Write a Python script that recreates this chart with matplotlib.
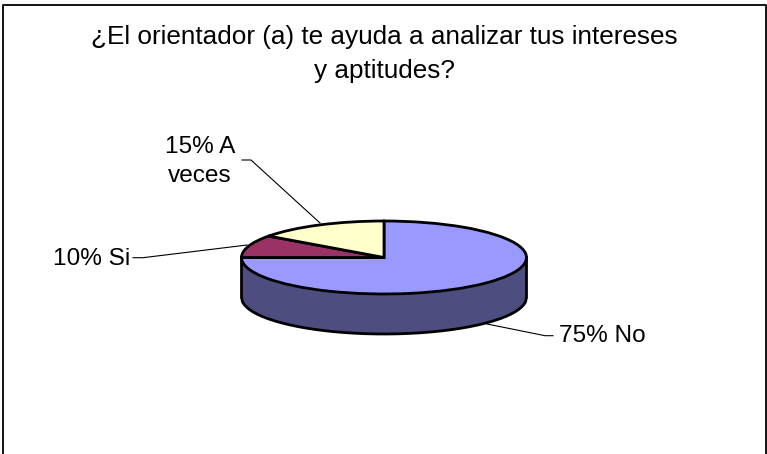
import numpy as np
import matplotlib
matplotlib.use("Agg")
import matplotlib.pyplot as plt

plt.rcParams['font.family'] = ['Liberation Sans', 'DejaVu Sans']

titulo = "¿El orientador (a) te ayuda a analizar tus intereses\ny aptitudes?"
categorias = ["No", "Si", "A\nveces"]
valores = [75, 10, 15]
colores = ["#9999FF", "#993366", "#FFFFCC"]
color_lado = "#4D4D80"

W, H = 767, 454
# elipse de la tapa en pixeles
cx, cy, rx, ry = 384, 257.5, 142.5, 36.5
alto = 40

fig = plt.figure(figsize=(W / 100, H / 100), dpi=100)

# capa en pixeles para marco, textos y lineas
fondo = fig.add_axes([0, 0, 1, 1])
fondo.set_xlim(0, W)
fondo.set_ylim(H, 0)
fondo.axis("off")
fondo.plot([3, 3, 766, 766], [H, 4.5, 4.5, H], color="black", lw=1.3)

fondo.text(384, 54, titulo, ha="center", va="center", fontsize=18.8, linespacing=1.53)

# lineas guia
fondo.plot([133, 143, 247], [257.7, 257.7, 245], color="black", lw=0.8)
fondo.plot([242, 251, 320], [160, 160, 223], color="black", lw=0.8)
fondo.plot([487, 545, 553], [324, 335.7, 335.7], color="black", lw=0.8)
fondo.text(559, 336, f"{valores[0]}% {categorias[0]}", ha="left", va="center", fontsize=17.6)
fondo.text(130, 259, f"{valores[1]}% {categorias[1]}", ha="right", va="center", fontsize=17.6)
fondo.text(200, 161.5, f"{valores[2]}% {categorias[2]}", ha="center", va="center", fontsize=17.6, linespacing=1.42)

# tarta con radio 1, ejes escalados para que salga elipse
ax = fig.add_axes([0, 0, 1, 1])
ax.patch.set_alpha(0)
ax.pie(valores, colors=colores, startangle=90, counterclock=False, radius=1,
       wedgeprops=dict(edgecolor="black", linewidth=2, zorder=3))
ax.set_aspect("auto")
ax.set_xlim((0 - cx) / rx, (W - cx) / rx)
ax.set_ylim((cy - H) / ry, cy / ry)
ax.axis("off")

# lado del cilindro
x = np.linspace(-1, 1, 300)
y = -np.sqrt(1 - x ** 2)
prof = alto / ry
ax.fill_between(x, y, y - prof, color=color_lado, lw=0, zorder=1)
ax.plot(np.r_[-1, x, 1], np.r_[0, y - prof, 0], color="black", lw=2, zorder=2)

fig.savefig("out.png", dpi=100)
